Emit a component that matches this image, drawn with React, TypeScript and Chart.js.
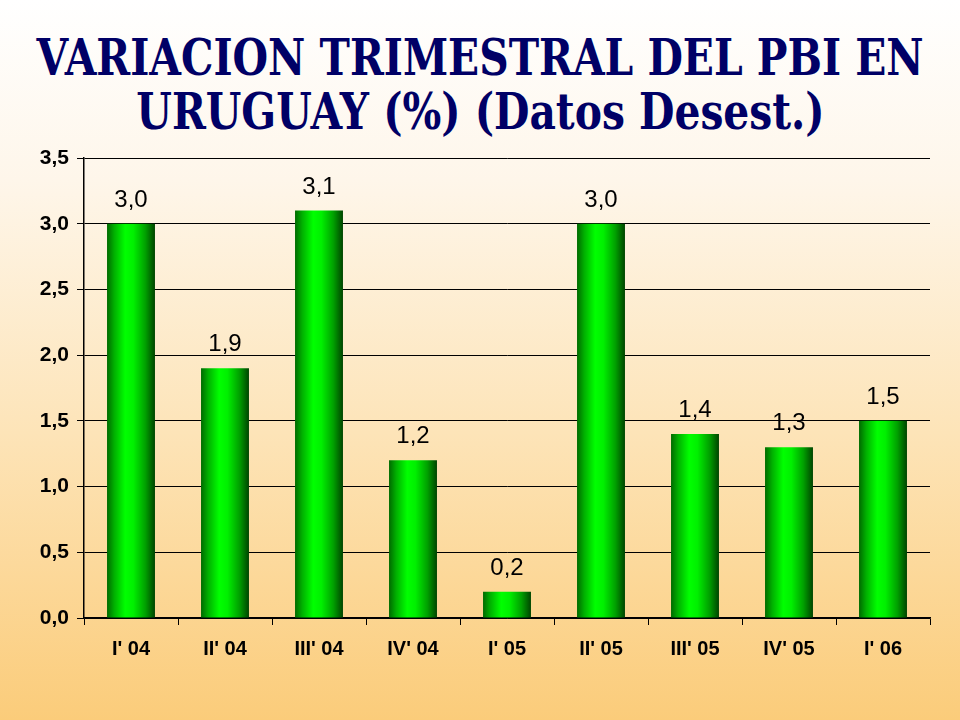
import React, { useEffect, useRef } from "react";
import { Chart, registerables } from "chart.js";

Chart.register(...registerables);

const categories = ["I' 04", "II' 04", "III' 04", "IV' 04", "I' 05", "II' 05", "III' 05", "IV' 05", "I' 06"];
const values = [3.0, 1.9, 3.1, 1.2, 0.2, 3.0, 1.4, 1.3, 1.5];
const titleLines = ["VARIACION TRIMESTRAL DEL PBI EN", "URUGUAY (%) (Datos Desest.)"];

const BAR_PCT = 0.51;
const fmt = (v: number) => v.toFixed(1).replace(".", ",");

const labelPlugin = {
  id: "valueLabels",
  afterDatasetsDraw(chart: any) {
    const ctx = chart.ctx;
    const meta = chart.getDatasetMeta(0);
    ctx.save();
    ctx.font = "24px 'Liberation Sans', Arial, sans-serif";
    ctx.fillStyle = "#000";
    ctx.textAlign = "center";
    ctx.textBaseline = "alphabetic";
    meta.data.forEach((el: any, i: number) => {
      ctx.fillText(fmt(values[i]), el.x, el.y - 17);
    });
    ctx.restore();
  },
};

export default function App() {
  const ref = useRef<HTMLCanvasElement>(null);
  const titleRef = useRef<HTMLDivElement>(null);
  useEffect(() => {
    if (!ref.current) return;
    const chart = new Chart(ref.current, {
      type: "bar",
      data: {
        labels: categories,
        datasets: [
          {
            data: values,
            barPercentage: BAR_PCT,
            categoryPercentage: 1,
            borderWidth: 0,
            backgroundColor: (c: any) => {
              const ch = c.chart;
              const xs = ch.scales && ch.scales.x;
              if (!xs || c.dataIndex === undefined || !ch.chartArea) return "#00cc00";
              const cx = xs.getPixelForValue(c.dataIndex);
              const w = (xs.width / categories.length) * BAR_PCT;
              const g = ch.ctx.createLinearGradient(cx - w / 2, 0, cx + w / 2, 0);
              g.addColorStop(0, "#006a00");
              g.addColorStop(0.15, "#00b000");
              g.addColorStop(0.38, "#00ff00");
              g.addColorStop(0.55, "#00f000");
              g.addColorStop(0.8, "#00a000");
              g.addColorStop(1, "#004400");
              return g;
            },
          },
        ],
      },
      options: {
        animation: false,
        responsive: false,
        maintainAspectRatio: false,
        layout: { padding: { top: 158, right: 30, left: 0, bottom: 0 } },
        plugins: { legend: { display: false }, tooltip: { enabled: false }, title: { display: false } },
        scales: {
          x: {
            offset: true,
            grid: { display: true, drawOnChartArea: false, drawTicks: true, tickLength: 7, color: "#000", offset: true },
            border: { display: true, color: "#000", width: 1.5 },
            ticks: {
              color: "#000",
              font: { family: "'Liberation Sans', Arial, sans-serif", size: 20, weight: "bold" },
              padding: 12,
              maxRotation: 0,
            },
            afterFit: (s: any) => {
              s.height = 102;
            },
          },
          y: {
            min: 0,
            max: 3.5,
            ticks: {
              stepSize: 0.5,
              color: "#000",
              font: { family: "'Liberation Sans', Arial, sans-serif", size: 21, weight: "bold" },
              padding: 8,
              callback: (v: any) => fmt(Number(v)),
            },
            grid: { color: "#000", lineWidth: 1, tickLength: 7, drawTicks: true },
            border: { display: true, color: "#000", width: 1.5 },
            afterFit: (s: any) => {
              s.width = 84;
            },
          },
        },
      },
      plugins: [labelPlugin],
    });
    if (titleRef.current) {
      const spans = titleRef.current.querySelectorAll("span");
      const first = spans[0] as HTMLElement;
      if (first) {
        const w = first.offsetWidth;
        const s = 887 / w;
        spans.forEach((el) => {
          (el as HTMLElement).style.transform = `scaleX(${s})`;
        });
      }
    }
    return () => chart.destroy();
  }, []);

  return (
    <div
      style={{
        position: "absolute",
        left: 0,
        top: 0,
        width: 960,
        height: 720,
        overflow: "hidden",
        background: "linear-gradient(to bottom, #ffffff 0%, #fef6ea 25%, #fde4b8 60%, #fbcc7a 100%)",
      }}
    >
      <div
        ref={titleRef}
        style={{
          position: "absolute",
          left: 0,
          top: 31,
          width: 960,
          fontFamily: "'DejaVu Serif Condensed', 'DejaVu Serif', serif",
          fontStretch: "condensed",
          fontWeight: "bold",
          fontSize: 50,
          lineHeight: "54px",
          color: "#000066",
        }}
      >
        {titleLines.map((l, i) => (
          <div key={i} style={{ display: "flex", justifyContent: "center", width: 960 }}>
            <span style={{ display: "inline-block", whiteSpace: "nowrap", flexShrink: 0, transformOrigin: "50% 50%" }}>{l}</span>
          </div>
        ))}
      </div>
      <canvas ref={ref} width={960} height={720} style={{ position: "absolute", left: 0, top: 0, width: 960, height: 720 }} />
    </div>
  );
}
